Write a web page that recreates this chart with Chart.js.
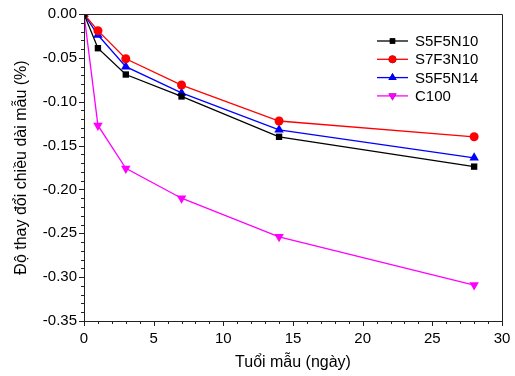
<!DOCTYPE html>
<html>
<head>
<meta charset="utf-8">
<script src="https://cdn.jsdelivr.net/npm/chart.js@4/dist/chart.umd.min.js"></script>
<style>
  body { margin: 0; background: #fff; }
  #wrap { width: 515px; height: 376px; }
</style>
</head>
<body>
<div id="wrap"><canvas id="chart" width="515" height="376"></canvas></div>
<script>
const days = [0, 1, 3, 7, 14, 28];
const s5f5n10 = [0, -0.039, -0.069, -0.094, -0.140, -0.174];
const s7f3n10 = [0, -0.019, -0.051, -0.081, -0.122, -0.140];
const s5f5n14 = [0, -0.024, -0.060, -0.090, -0.132, -0.164];
const c100 = [0, -0.127, -0.176, -0.210, -0.254, -0.309];
const seriesNames = ['S5F5N10', 'S7F3N10', 'S5F5N14', 'C100'];
const xTicks = [0, 5, 10, 15, 20, 25, 30];
const yTicks = [0, -0.05, -0.10, -0.15, -0.20, -0.25, -0.30, -0.35];

const font = 'Liberation Sans, Arial, sans-serif';

const toPoints = arr => arr.map((v, i) => ({ x: days[i], y: v }));

const makeSet = (label, data, color, style, rot, r) => ({
    label: label,
    data: toPoints(data),
    showLine: true,
    borderColor: color,
    backgroundColor: color,
    borderWidth: 1.3,
    pointStyle: style,
    rotation: rot,
    pointRadius: r,
    pointHoverRadius: r,
    pointBorderWidth: 0
});

const datasets = [
    makeSet(seriesNames[0], s5f5n10, '#000000', 'rect', 0, 4.5),
    makeSet(seriesNames[1], s7f3n10, '#ff0000', 'circle', 0, 4.5),
    makeSet(seriesNames[2], s5f5n14, '#0000ff', 'triangle', 0, 5.5),
    makeSet(seriesNames[3], c100, '#ff00ff', 'triangle', 180, 5.5)
];

// frame, minor/major ticks and legend
const decorations = {
    id: 'decorations',
    afterDraw(chart) {
        const ctx = chart.ctx;
        const a = chart.chartArea;
        const xs = chart.scales.x, ys = chart.scales.y;
        ctx.save();
        ctx.strokeStyle = '#222';
        ctx.lineWidth = 1;
        ctx.beginPath();
        ctx.rect(Math.round(a.left) + 0.5, Math.round(a.top) + 0.5, Math.round(a.right - a.left), Math.round(a.bottom - a.top));
        ctx.stroke();

        ctx.beginPath();
        for (let v = 0; v <= 30; v++) {
            const px = Math.round(xs.getPixelForValue(v)) + 0.5;
            const len = v % 5 === 0 ? 5 : 3;
            ctx.moveTo(px, a.bottom);
            ctx.lineTo(px, a.bottom + len);
        }
        for (let k = 0; k <= 35; k++) {
            const py = Math.round(ys.getPixelForValue(-k / 100)) + 0.5;
            const len = k % 5 === 0 ? 5 : 3;
            ctx.moveTo(a.left, py);
            ctx.lineTo(a.left - len, py);
        }
        ctx.stroke();

        // legend
        const lx = 377, ly = 41, step = 18.3;
        ctx.font = '15px ' + font;
        ctx.textBaseline = 'middle';
        chart.data.datasets.forEach((ds, i) => {
            const y = ly + i * step;
            ctx.strokeStyle = ds.borderColor;
            ctx.lineWidth = 1.3;
            ctx.beginPath();
            ctx.moveTo(lx, y);
            ctx.lineTo(lx + 31, y);
            ctx.stroke();
            Chart.helpers.drawPoint(ctx, {
                pointStyle: ds.pointStyle,
                rotation: ds.rotation,
                radius: ds.pointRadius * 0.85,
                borderWidth: 0
            }, lx + 15.5, y);
            ctx.fillStyle = ds.borderColor;
            ctx.fill();
            ctx.fillStyle = '#000';
            ctx.fillText(ds.label, lx + 38, y + 1);
        });
        ctx.restore();
    }
};

new Chart(document.getElementById('chart'), {
    type: 'scatter',
    data: { datasets: datasets },
    options: {
        responsive: false,
        animation: false,
        events: [],
        layout: { padding: { top: 14, right: 13, left: 0, bottom: 0 } },
        plugins: { legend: { display: false }, tooltip: { enabled: false } },
        scales: {
            x: {
                type: 'linear',
                min: 0,
                max: 30,
                afterBuildTicks: s => { s.ticks = xTicks.map(v => ({ value: v })); },
                afterFit: s => { s.height = 55; s.paddingLeft = 0; s.paddingRight = 0; },
                grid: { display: false, drawTicks: false },
                border: { display: false },
                ticks: { padding: 9, color: '#000', font: { family: font, size: 15 } },
                title: {
                    display: true,
                    text: 'Tuổi mẫu (ngày)',
                    color: '#000',
                    font: { family: font, size: 16 },
                    padding: { bottom: 4 }
                }
            },
            y: {
                type: 'linear',
                min: -0.35,
                max: 0,
                afterBuildTicks: s => { s.ticks = yTicks.map(v => ({ value: v })); },
                afterFit: s => { s.width = 84; s.paddingTop = 0; s.paddingBottom = 0; },
                grid: { display: false, drawTicks: false },
                border: { display: false },
                ticks: {
                    padding: 7,
                    color: '#000',
                    font: { family: font, size: 15 },
                    callback: v => v.toFixed(2)
                },
                title: {
                    display: true,
                    text: 'Độ thay đổi chiều dài mẫu (%)',
                    color: '#000',
                    font: { family: font, size: 16 },
                    padding: { top: 12 }
                }
            }
        }
    },
    plugins: [decorations]
});
</script>
</body>
</html>
